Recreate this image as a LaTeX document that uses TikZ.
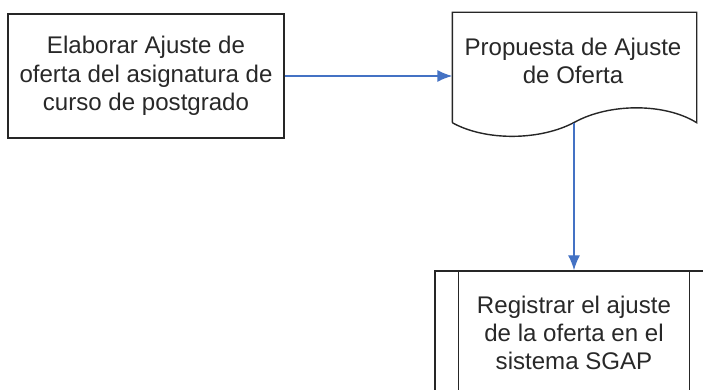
\documentclass[tikz,border=0pt]{standalone}
\usepackage{fontspec}
\setmainfont{Liberation Sans}
\usetikzlibrary{arrows.meta}
\definecolor{azulflecha}{RGB}{68,114,196}
\definecolor{textogris}{RGB}{40,40,40}
\tikzset{
    caja/.style={draw=black!85, line width=0.8pt, minimum width=5.52cm, minimum height=2.48cm,
        align=center, text=textogris, font=\fontsize{13.7}{16.1}\selectfont},
    flecha/.style={azulflecha, line width=0.8pt, -{Latex[length=0.3cm,width=0.24cm]}}
}
\begin{document}
\begin{tikzpicture}[scale=1.0]
    % marco (recorta la tercera caja)
    \useasboundingbox (0,0) rectangle (14.06,7.8);
    \clip (0,0) rectangle (14.06,7.8);
    % actividad: elaborar ajuste
    \node[caja] (elaborar) at (2.92, 6.28) {Elaborar Ajuste de\\oferta del asignatura de\\curso de postgrado};
    % documento: propuesta
    \node[caja, draw=none, minimum width=4.86cm, minimum height=2.18cm] (propuesta) at (11.49, 6.45) {};
    \node[caja, draw=none, minimum size=0pt] (textoprop) at (11.46, 6.58) {Propuesta de Ajuste\\de Oferta};
    \draw[black!85, line width=0.8pt] (propuesta.south west) -- (propuesta.north west) -- (propuesta.north east) -- (propuesta.south east)
        .. controls (13.30, 5.74) and (12.20, 5.74) .. (11.50, 5.36)
        .. controls (10.80, 4.98) and (9.70, 4.98) .. (propuesta.south west);
    % proceso predefinido: registrar
    \node[caja, minimum width=5.56cm] (registrar) at (11.48, 1.14) {Registrar el ajuste\\de la oferta en el\\sistema SGAP};
    \draw[black!85, line width=0.8pt] ([xshift=0.48cm]registrar.north west) -- ([xshift=0.48cm]registrar.south west);
    \draw[black!85, line width=0.8pt] ([xshift=-0.48cm]registrar.north east) -- ([xshift=-0.48cm]registrar.south east);
    % conectores
    \coordinate (onda) at (11.48, 5.34);
    \draw[flecha] (elaborar.east) -- (elaborar.east -| propuesta.west);
    \draw[flecha] (onda) -- (registrar.north);
\end{tikzpicture}
\end{document}
